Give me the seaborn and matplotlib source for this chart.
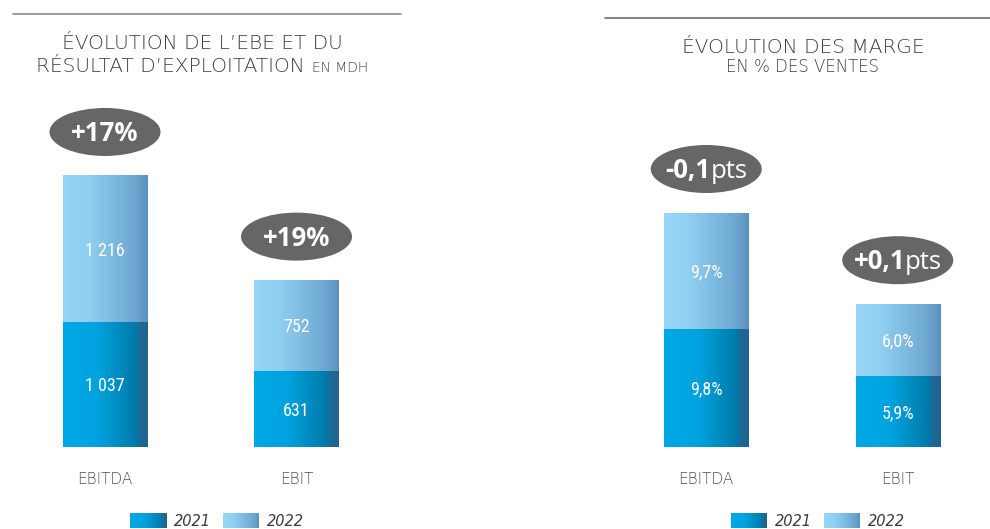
import numpy as np
import pandas as pd
import seaborn as sns
import matplotlib
matplotlib.use("Agg")
import matplotlib.pyplot as plt
from matplotlib.patches import Ellipse
from matplotlib.lines import Line2D
from matplotlib.transforms import ScaledTranslation
from matplotlib.colors import LinearSegmentedColormap

# ---------------------------------------------------------------- data
categories = ["EBITDA", "EBIT"]
years = ["2021", "2022"]

# operating results, MDH
result_2021 = [1037, 631]
result_2022 = [1216, 752]
result_growth = ["+17%", "+19%"]

# margins, % of sales
margin_2021 = [9.8, 5.9]
margin_2022 = [9.7, 6.0]
margin_change = ["-0,1", "+0,1"]

# ---------------------------------------------------------------- style
sns.set_theme(style="white")
plt.rcParams["font.family"] = ["DejaVu Sans"]

W, H = 990, 529
fig = plt.figure(figsize=(W / 100, H / 100), dpi=100)
fig.patch.set_facecolor("white")

TITLE_COLOR = "#3f3f3f"
LABEL_COLOR = "#505050"
BADGE_COLOR = "#666666"
VALUE_FONT = ["Roboto Condensed", "Roboto", "DejaVu Sans"]
BADGE_FONT = ["Open Sans", "DejaVu Sans"]

DARK_STOPS = [(0.0, "#00A8E6"), (0.40, "#00A3DF"), (0.86, "#0079A9"),
              (0.90, "#1D6A95"), (1.0, "#23628E")]
LIGHT_STOPS = [(0.0, "#97D6F6"), (0.30, "#8FCFF1"), (0.86, "#6CA6CF"),
               (1.0, "#5B90C0")]


def gradient(stops, n=256):
    cmap = LinearSegmentedColormap.from_list("g", stops)
    return cmap(np.linspace(0, 1, n))[None, :, :3]


DARK_GRAD = gradient(DARK_STOPS)
LIGHT_GRAD = gradient(LIGHT_STOPS)


def fx(px):
    return px / W


def fy(py):
    return 1 - py / H


def baseline_shift(size, cap=0.72):
    """Offset that puts the middle of capital letters on the anchor."""
    return ScaledTranslation(0, -size * cap / 2 / 72, fig.dpi_scale_trans)


def fig_text(x_px, y_px, s, size, **kw):
    return fig.text(fx(x_px), fy(y_px), s, fontsize=size, va="baseline",
                    transform=fig.transFigure + baseline_shift(size), **kw)


# ---------------------------------------------------------------- panels
PANEL_W, PANEL_H = 383, 357
AXIS_BOTTOM = 447
BAR_W = 0.44


def badge(ax, x, top_value, parts, size=18.5):
    trans = fig.dpi_scale_trans + ScaledTranslation(x, top_value, ax.transData)
    rise = 0.44
    ax.add_patch(Ellipse((0, rise), 1.11, 0.48, transform=trans,
                         facecolor=BADGE_COLOR, edgecolor="none",
                         clip_on=False, zorder=6))
    renderer = fig.canvas.get_renderer()
    texts = [ax.text(0, 0, s, transform=trans, ha="left", va="baseline",
                     color="white", fontsize=size, fontweight=w,
                     family=BADGE_FONT, zorder=7, clip_on=False)
             for s, w in parts]
    widths = [t.get_window_extent(renderer).width / fig.dpi for t in texts]
    x0 = -sum(widths) / 2
    base = rise - size * 0.714 / 2 / 72
    for t, w in zip(texts, widths):
        t.set_position((x0, base))
        x0 += w


def panel(left_px, v21, v22, px_per_unit, fmt, badges):
    ax = fig.add_axes([fx(left_px), fy(AXIS_BOTTOM), PANEL_W / W, PANEL_H / H])
    ax.set_facecolor("none")
    df = pd.DataFrame({"categorie": categories, "y2021": v21, "y2022": v22})
    df["total"] = df["y2021"] + df["y2022"]

    sns.barplot(data=df, x="categorie", y="total", color="#8FCFF1",
                width=BAR_W, saturation=1, errorbar=None, ax=ax)
    sns.barplot(data=df, x="categorie", y="y2021", color="#00A3DF",
                width=BAR_W, saturation=1, errorbar=None, ax=ax)

    n = len(categories)
    for i, p in enumerate(list(ax.patches)):
        bx, by, bw, bh = p.get_x(), p.get_y(), p.get_width(), p.get_height()
        grad = LIGHT_GRAD if i < n else DARK_GRAD
        ax.imshow(grad, extent=[bx, bx + bw, by, by + bh], aspect="auto",
                  interpolation="bilinear", zorder=2 if i < n else 3)
        p.set_visible(False)

    ax.set_xlim(-0.5, n - 0.5)
    ax.set_ylim(0, PANEL_H / px_per_unit)
    ax.set_xlabel("")
    ax.set_ylabel("")
    ax.set_yticks([])
    ax.set_xticks(range(n), categories)
    ax.tick_params(axis="x", length=0, pad=18, labelsize=11,
                   labelcolor=LABEL_COLOR)
    for lbl in ax.get_xticklabels():
        lbl.set_fontweight("light")
    sns.despine(ax=ax, left=True, bottom=True)
    ax.grid(False)

    for i in range(n):
        for y, v in ((v21[i] / 2, v21[i]), (v21[i] + v22[i] / 2, v22[i])):
            ax.text(i, y, fmt(v), ha="center", va="baseline", color="white",
                    fontsize=13, family=VALUE_FONT, fontweight="normal",
                    zorder=5, transform=ax.transData + baseline_shift(13))
        badge(ax, i, v21[i] + v22[i], badges[i])
    return ax


def fmt_mdh(v):
    return f"{v:,}".replace(",", " ")


def fmt_pct(v):
    return f"{v:.1f}".replace(".", ",") + "%"


panel(9.25, result_2021, result_2022, 0.1203, fmt_mdh,
      [[(g, "bold")] for g in result_growth])
panel(610.5, margin_2021, margin_2022, 12.0, fmt_pct,
      [[(c, "bold"), ("pts", "normal")] for c in margin_change])

# ---------------------------------------------------------------- headers
fig.add_artist(Line2D([fx(13), fx(401)], [fy(13.5)] * 2, color="#8c8c8c",
                      lw=1.2, transform=fig.transFigure))
fig.add_artist(Line2D([fx(605), fx(990)], [fy(18.3)] * 2, color="#707070",
                      lw=1.2, transform=fig.transFigure))

TITLE_FS = 14.5
fig_text(202, 42, "ÉVOLUTION DE L’EBE ET DU", TITLE_FS, ha="center",
         color=TITLE_COLOR, fontweight="light")

# second line mixes a large and a small part, centred as a whole
renderer = fig.canvas.get_renderer()
big = fig_text(0, 65, "RÉSULTAT D’EXPLOITATION", TITLE_FS, ha="left",
               color=TITLE_COLOR, fontweight="light")
small = fig_text(0, 65, "EN MDH", 10, ha="left", color=TITLE_COLOR,
                 fontweight="light")
small.set_transform(fig.transFigure + ScaledTranslation(0, -TITLE_FS * 0.72 / 2 / 72,
                                                        fig.dpi_scale_trans))
wb = big.get_window_extent(renderer).width
ws = small.get_window_extent(renderer).width
gap = 7
x_start = 202 - (wb + gap + ws) / 2
big.set_position((fx(x_start), fy(65)))
small.set_position((fx(x_start + wb + gap), fy(65)))

fig_text(803, 46, "ÉVOLUTION DES MARGE", TITLE_FS, ha="center",
         color=TITLE_COLOR, fontweight="light")
fig_text(803, 66, "EN % DES VENTES", 12, ha="center",
         color=TITLE_COLOR, fontweight="light")

# ---------------------------------------------------------------- legends
def legend(x_px):
    for j, (year, grad) in enumerate(zip(years, (DARK_GRAD, LIGHT_GRAD))):
        sx = x_px + j * 93
        sw = fig.add_axes([fx(sx), fy(528), 36 / W, 15 / H])
        sw.imshow(grad, aspect="auto", interpolation="bilinear")
        sw.set_axis_off()
        fig_text(sx + 44, 520.5, year, 10.5, ha="left", color="#3a3a3a",
                 style="italic")


legend(130)
legend(731)

fig.savefig("out.png", dpi=100, facecolor="white")
